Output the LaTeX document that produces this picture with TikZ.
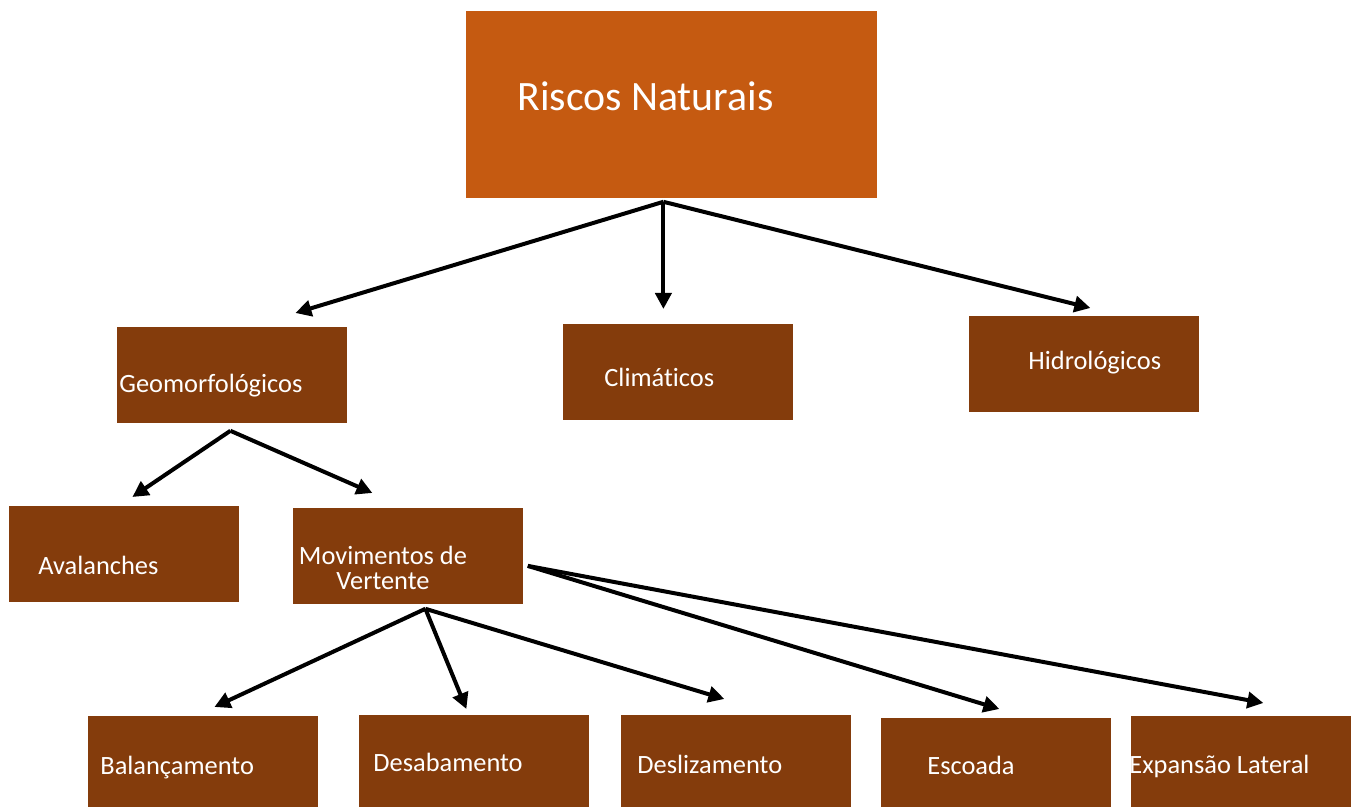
\documentclass[tikz,border=0pt]{standalone}
\usepackage{fontspec}
\setmainfont{Carlito}[Ligatures=NoCommon]
\usetikzlibrary{arrows.meta,calc}
\definecolor{rootOrange}{HTML}{C55A11}
\definecolor{boxBrown}{HTML}{843C0C}

\begin{document}
\begin{tikzpicture}[x=0.5pt,y=-0.5pt,
  box/.style={fill=boxBrown,draw=none,anchor=north west,inner sep=0pt,minimum width=115pt,minimum height=48pt},
  txt/.style={text=white,anchor=base west,inner sep=0pt,font=\fontsize{13.2}{12.5}\selectfont},
  arr/.style={draw=black,line width=2pt,-{Triangle[length=8pt,width=8pt]}}]
\useasboundingbox (0,0) rectangle (1351,807);
% boxes
\node[box,fill=rootOrange,minimum width=205.5pt,minimum height=93.5pt] (root) at (466,11) {};
\node[box] (geo) at (117,327) {};
\node[box] (clim) at (563,324) {};
\node[box] (hid) at (969,316) {};
\node[box] (ava) at (9,506) {};
\node[box] (mov) at (293,508) {};
\node[box,minimum height=45.5pt] (bal) at (88,716) {};
\node[box,minimum height=46pt] (desab) at (359,715) {};
\node[box,minimum height=46pt] (desl) at (621,715) {};
\node[box,minimum height=44.5pt] (esc) at (881,718) {};
\node[box,minimum width=110pt,minimum height=45.5pt] (exp) at (1131,716) {};
% texts
\node[txt,font=\fontsize{20.9}{24}\selectfont] (roottxt) at (517,111) {Riscos Naturais};
\node[txt] (geotxt) at (119,393) {Geomorfológicos};
\node[txt] (climtxt) at (604,387) {Climáticos};
\node[txt] (hidtxt) at (1028,370) {Hidrológicos};
\node[txt] (avatxt) at (38,575) {Avalanches};
\node[txt,anchor=center,align=center] (movtxt) at (383,568) {Movimentos de\\Vertente};
\node[txt] (baltxt) at (100,775) {Balançamento};
\node[txt] (desabtxt) at (373,772) {Desabamento};
\node[txt] (desltxt) at (637,774) {Deslizamento};
\node[txt] (esctxt) at (927,775) {Escoada};
\node[txt] (exptxt) at (1129,774) {Expansão Lateral};
% arrows
\draw[arr] ($(root.south)+(-8.5,3)$) -- ($(geo.north)+(63,-14)$);
\draw[arr] ($(root.south)+(-8.5,3)$) -- ($(clim.north)+(-15,-15)$);
\draw[arr] ($(root.south)+(-8.5,3)$) -- ($(hid.north)+(6,-8)$);
\draw[arr] ($(geo.south)+(-2,7)$) -- ($(ava.north)+(8,-9)$);
\draw[arr] ($(geo.south)+(-2,7)$) -- ($(mov.north)+(-36,-15)$);
\draw[arr] ($(mov.south)+(17,4)$) -- ($(bal.north)+(11,-9)$);
\draw[arr] ($(mov.south)+(17,4)$) -- ($(desab.north)+(-8,-6)$);
\draw[arr] ($(mov.south)+(17,4)$) -- ($(desl.north)+(-12,-16)$);
\draw[arr] ($(mov.east)+(4,9.5)$) -- ($(esc.north)+(3,-9)$);
\draw[arr] ($(mov.east)+(4,9.5)$) -- ($(exp.north)+(22,-13)$);
\end{tikzpicture}
\end{document}
